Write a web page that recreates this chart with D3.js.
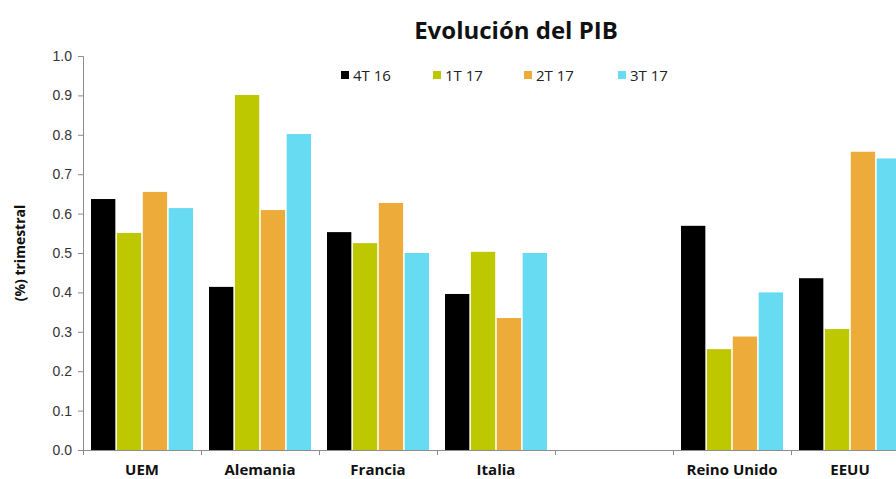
<!DOCTYPE html>
<html><head><meta charset="utf-8">
<script src="https://cdn.jsdelivr.net/npm/d3@7"></script>
<style>body{margin:0;background:#fff;overflow:hidden}svg{display:block;font-family:"Open Sans","Noto Sans",sans-serif}</style>
</head><body><svg id="c" width="896" height="479"></svg>
<script>
const categories = ["UEM","Alemania","Francia","Italia","","Reino Unido","EEUU"];
const series = ["4T 16","1T 17","2T 17","3T 17"];
const v4T16 = [0.637,0.414,0.553,0.396,null,0.569,0.436];
const v1T17 = [0.551,0.901,0.525,0.503,null,0.256,0.307];
const v2T17 = [0.655,0.609,0.627,0.335,null,0.288,0.757];
const v3T17 = [0.614,0.802,0.500,0.500,null,0.400,0.740];
const yTicks = [0,0.1,0.2,0.3,0.4,0.5,0.6,0.7,0.8,0.9,1.0];
const colors = ["#000000","#bec800","#edac3a","#66dbf2"];
const values = [v4T16,v1T17,v2T17,v3T17];

const svg = d3.select("#c");
const catKeys = categories.map((c,i)=>i);
const x = d3.scaleBand().domain(catKeys).range([83,909]).padding(0);
const xs = d3.scaleBand().domain(series).range([8,110]).paddingInner(0.06);
const y = d3.scaleLinear().domain([0,1]).range([450,56]);

// y axis
const ya = svg.append("g").attr("transform","translate(83,0)")
  .call(d3.axisLeft(y).tickValues(yTicks).tickFormat(d3.format(".1f")).tickSize(5).tickPadding(6));
ya.selectAll("path,line").attr("stroke","#8c8c8c");
ya.selectAll("text").attr("font-size",14).attr("fill","#333");
ya.select(".domain").attr("d","M-5,56.5H0.5V450.5");

// bars
series.forEach((s,si)=>{
  svg.append("g").selectAll("rect").data(values[si].map((v,i)=>({v,i})).filter(d=>d.v!=null))
   .join("rect")
   .attr("x",d=>x(d.i)+xs(s)).attr("width",xs.bandwidth())
   .attr("y",d=>y(d.v)).attr("height",d=>y(0)-y(d.v))
   .attr("fill",colors[si]);
});

// x axis
const xa = svg.append("g").attr("transform","translate(0,450)");
xa.append("line").attr("x1",83).attr("x2",896).attr("y1",0.5).attr("y2",0.5).attr("stroke","#8c8c8c");
xa.selectAll("line.t").data(catKeys.concat([7])).join("line").attr("class","t")
  .attr("x1",d=>Math.round(d<7?x(d):x(6)+x.bandwidth())+0.5).attr("x2",d=>Math.round(d<7?x(d):x(6)+x.bandwidth())+0.5)
  .attr("y1",0).attr("y2",5).attr("stroke","#8c8c8c");
xa.selectAll("text").data(catKeys).join("text")
  .attr("x",d=>x(d)+x.bandwidth()/2).attr("y",24.5).attr("text-anchor","middle")
  .attr("font-size",15).attr("font-weight","bold").attr("fill","#111")
  .text(d=>categories[d]);

// title
svg.append("text").attr("x",516).attr("y",39).attr("text-anchor","middle")
  .attr("font-size",24).attr("font-weight","bold").attr("fill","#111").text("Evolución del PIB");

// y label
svg.append("text").attr("transform","translate(25,253) rotate(-90)").attr("text-anchor","middle")
  .attr("font-size",14).attr("font-weight","bold").attr("fill","#111").text("(%) trimestral");

// legend
const lx = [341,433,524,618];
const lg = svg.append("g").selectAll("g").data(series).join("g").attr("transform",(d,i)=>`translate(${lx[i]},75)`);
lg.append("rect").attr("x",0).attr("y",-4).attr("width",8).attr("height",8).attr("fill",(d,i)=>colors[i]);
lg.append("text").attr("x",12).attr("y",5.5).attr("font-size",15).attr("fill","#222").text(d=>d);
</script></body></html>
